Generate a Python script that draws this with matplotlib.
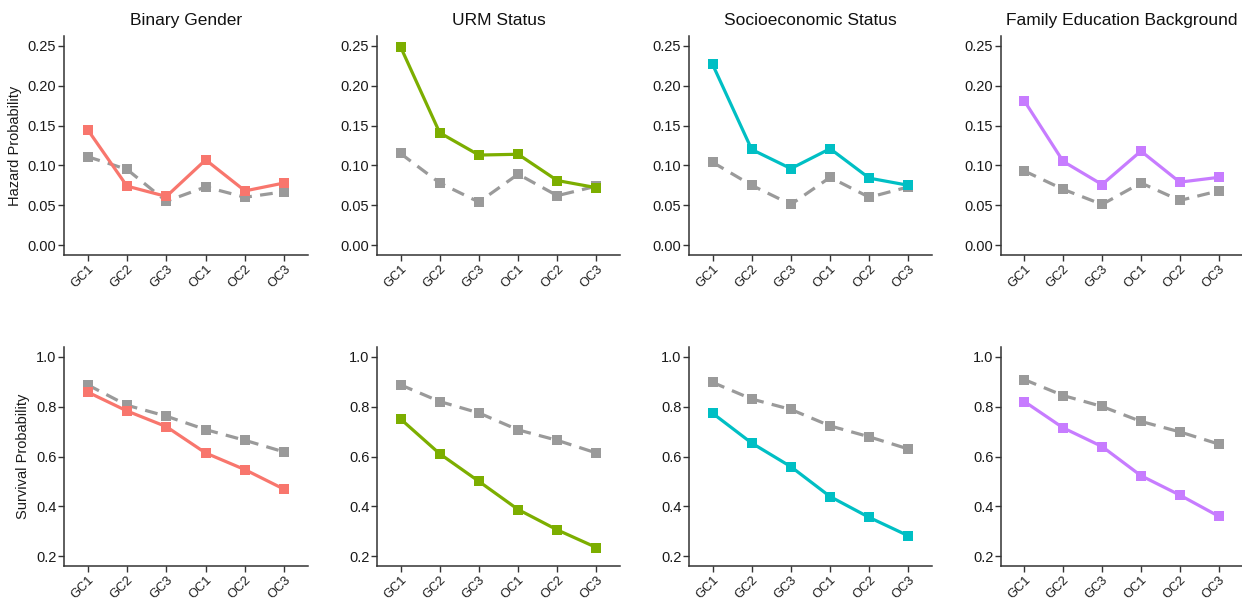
import matplotlib
matplotlib.use("Agg")
import matplotlib.pyplot as plt

plt.rcParams['font.family'] = ['Liberation Sans', 'DejaVu Sans']

categories = ["GC1", "GC2", "GC3", "OC1", "OC2", "OC3"]
titles = ["Binary Gender", "URM Status", "Socioeconomic Status", "Family Education Background"]
colors = ["#F8766D", "#7CAE00", "#00BFC4", "#C77CFF"]
ref_color = "#9A9A9A"

# Hazard probabilities: focal group vs. comparison group
hazard_gender = [0.145, 0.074, 0.061, 0.107, 0.068, 0.078]
hazard_gender_ref = [0.111, 0.095, 0.055, 0.073, 0.060, 0.067]
hazard_urm = [0.249, 0.141, 0.113, 0.114, 0.081, 0.072]
hazard_urm_ref = [0.115, 0.078, 0.054, 0.089, 0.062, 0.074]
hazard_ses = [0.227, 0.120, 0.096, 0.121, 0.084, 0.075]
hazard_ses_ref = [0.104, 0.075, 0.051, 0.085, 0.060, 0.073]
hazard_family = [0.181, 0.105, 0.076, 0.118, 0.079, 0.085]
hazard_family_ref = [0.093, 0.070, 0.051, 0.078, 0.056, 0.068]

# Survival probabilities: focal group vs. comparison group
surv_gender = [0.859, 0.783, 0.720, 0.614, 0.547, 0.468]
surv_gender_ref = [0.888, 0.806, 0.762, 0.708, 0.665, 0.618]
surv_urm = [0.751, 0.611, 0.500, 0.387, 0.305, 0.234]
surv_urm_ref = [0.888, 0.821, 0.775, 0.707, 0.665, 0.614]
surv_ses = [0.774, 0.654, 0.559, 0.439, 0.355, 0.281]
surv_ses_ref = [0.898, 0.831, 0.789, 0.723, 0.679, 0.630]
surv_family = [0.821, 0.715, 0.640, 0.523, 0.445, 0.360]
surv_family_ref = [0.909, 0.845, 0.801, 0.741, 0.699, 0.650]

hazard = [(hazard_gender, hazard_gender_ref), (hazard_urm, hazard_urm_ref),
          (hazard_ses, hazard_ses_ref), (hazard_family, hazard_family_ref)]
survival = [(surv_gender, surv_gender_ref), (surv_urm, surv_urm_ref),
            (surv_ses, surv_ses_ref), (surv_family, surv_family_ref)]

W, H = 1242, 602
fig = plt.figure(figsize=(W / 100, H / 100), dpi=100)

lefts = [64, 377, 689, 1001]
widths = [244, 243, 243, 241]
row_top = [36, 347]
row_h = 219


def style_axes(ax):
    for s in ["top", "right"]:
        ax.spines[s].set_visible(False)
    for s in ["left", "bottom"]:
        ax.spines[s].set_color("#333333")
        ax.spines[s].set_linewidth(1.1)
    ax.tick_params(axis="both", direction="out", length=4, width=1.0,
                   color="#333333", labelcolor="#1a1a1a")
    ax.tick_params(axis="y", labelsize=10.5, pad=1.5)
    ax.tick_params(axis="x", labelsize=9.3, pad=1.5)
    ax.set_xlim(-0.6, 5.6)
    ax.set_xticks(range(len(categories)))
    ax.set_xticklabels(categories, rotation=45, ha="right", va="top",
                       rotation_mode="anchor")


x = list(range(len(categories)))
for row, (data, ylim, yticks, ylabel) in enumerate([
        (hazard, (-0.0125, 0.2625), [0.0, 0.05, 0.10, 0.15, 0.20, 0.25], "Hazard Probability"),
        (survival, (0.16, 1.04), [0.2, 0.4, 0.6, 0.8, 1.0], "Survival Probability")]):
    for col in range(4):
        top = row_top[row]
        ax = fig.add_axes([lefts[col] / W, (H - top - row_h) / H, widths[col] / W, row_h / H])
        focal, ref = data[col]
        ax.plot(x, ref, color=ref_color, lw=2.3, dashes=(4, 2.6), marker="s",
                markersize=7, markeredgewidth=0, zorder=2)
        ax.plot(x, focal, color=colors[col], lw=2.3, marker="s",
                markersize=7, markeredgewidth=0, zorder=3)
        style_axes(ax)
        ax.set_ylim(*ylim)
        ax.set_yticks(yticks)
        if row == 0:
            ax.set_yticklabels([f"{v:.2f}" for v in yticks])
            ax.set_title(titles[col], fontsize=12.5, pad=8, color="#111111")
        else:
            ax.set_yticklabels([f"{v:.1f}" for v in yticks])
        if col == 0:
            ax.set_ylabel(ylabel, fontsize=10.5, color="#1a1a1a", labelpad=4)

fig.savefig("out.png", dpi=100)
